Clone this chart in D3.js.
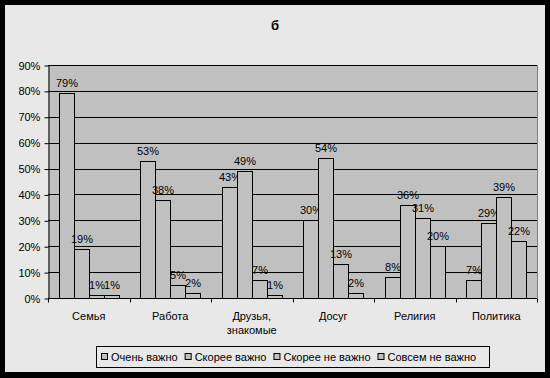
<!DOCTYPE html>
<html><head><meta charset="utf-8">
<script src="https://cdn.jsdelivr.net/npm/d3@7"></script>
<style>body{margin:0;background:#000}svg{display:block}text{font-family:Arial,"Liberation Sans",sans-serif}</style>
</head><body><svg id="c" width="550" height="378"></svg>
<script>
const title = "б";
const categories = ["Семья", "Работа", "Друзья,\nзнакомые", "Досуг", "Религия", "Политика"];
const seriesNames = ["Очень важно", "Скорее важно", "Скорее не важно", "Совсем не важно"];
const veryImportant = [79, 53, 43, 30, 8, 7];
const ratherImportant = [19, 38, 49, 54, 36, 29];
const ratherNotImportant = [1, 5, 7, 13, 31, 39];
const notAtAll = [1, 2, 1, 2, 20, 22];
const yTicks = [0, 10, 20, 30, 40, 50, 60, 70, 80, 90];

const series = [veryImportant, ratherImportant, ratherNotImportant, notAtAll];
const svg = d3.select("#c");
svg.append("rect").attr("x", 0).attr("y", 0).attr("width", 550).attr("height", 378).attr("fill", "#000");
svg.append("rect").attr("x", 5).attr("y", 5).attr("width", 540).attr("height", 367).attr("fill", "#e8e8e8");

const L = 48, R = 537, T = 65, B = 298;
const x0 = d3.scaleBand().domain(categories).range([L, R]).paddingInner(0).paddingOuter(0);
const x1 = d3.scaleBand().domain(d3.range(4)).range([0, x0.bandwidth()]).paddingOuter(0.72);
const y = d3.scaleLinear().domain([0, 90]).range([B, T]);

svg.append("rect").attr("x", L).attr("y", T).attr("width", R - L).attr("height", B - T).attr("fill", "#c0c0c0");
svg.append("line").attr("x1", R + 0.5).attr("x2", R + 0.5).attr("y1", T).attr("y2", B).attr("stroke", "#808080");
// gridlines
svg.append("g").selectAll("line").data(yTicks.filter(d => d > 0)).join("line")
  .attr("x1", L).attr("x2", R).attr("y1", d => Math.round(y(d)) + 0.5).attr("y2", d => Math.round(y(d)) + 0.5)
  .attr("stroke", "#000").attr("stroke-width", 1);

// bars
categories.forEach((c, ci) => {
  series.forEach((s, si) => {
    const v = s[ci];
    const bx = Math.round(x0(c) + x1(si)) + 0.5;
    const bw = Math.round(x1.bandwidth());
    svg.append("rect").attr("x", bx).attr("y", Math.round(y(v)) + 0.5)
      .attr("width", bw).attr("height", Math.max(0, Math.round(B - y(v))))
      .attr("fill", "#c0c0c0").attr("stroke", "#000").attr("stroke-width", 1);
    svg.append("text").attr("x", bx + bw / 2).attr("y", y(v) - 6)
      .attr("text-anchor", "middle").attr("font-size", 11).attr("fill", "#000").text(v + "%");
  });
});

// axes
const ya = d3.axisLeft(y).tickValues(yTicks).tickFormat(d => d + "%").tickSize(4).tickSizeOuter(0);
const gy = svg.append("g").attr("transform", `translate(${L + 0.5},0.5)`).call(ya);
gy.select(".domain").attr("stroke", "#000");
gy.selectAll("text").attr("font-size", 11).attr("fill", "#000").attr("dx", "-0.1em").style("font-family", "Arial, 'Liberation Sans', sans-serif");

const xa = svg.append("g").attr("transform", `translate(0,${B + 0.5})`);
xa.append("line").attr("x1", L).attr("x2", R).attr("stroke", "#000");
const tickXs = categories.map(c => x0(c)).concat([R]);
xa.selectAll("line.t").data(tickXs).join("line").attr("class", "t")
  .attr("x1", d => Math.round(d) + 0.5).attr("x2", d => Math.round(d) + 0.5).attr("y1", 0).attr("y2", 4).attr("stroke", "#000");
categories.forEach(c => {
  const t = xa.append("text").attr("x", x0(c) + x0.bandwidth() / 2).attr("y", 21)
    .attr("text-anchor", "middle").attr("font-size", 11).attr("fill", "#000");
  c.split("\n").forEach((ln, i) => t.append("tspan").attr("x", x0(c) + x0.bandwidth() / 2).attr("dy", i ? 14 : 0).text(ln));
});

// title
svg.append("text").attr("x", 275).attr("y", 30).attr("text-anchor", "middle")
  .attr("font-size", 13).attr("font-weight", "bold").attr("fill", "#000").text(title);

// legend
const lg = svg.append("g");
lg.append("rect").attr("x", 96.5).attr("y", 346.5).attr("width", 393).attr("height", 21)
  .attr("fill", "#e8e8e8").attr("stroke", "#000");
let lx = 101;
seriesNames.forEach((n, i) => {
  lg.append("rect").attr("x", lx + 0.5).attr("y", 353.5).attr("width", 6).attr("height", 6)
    .attr("fill", "#c0c0c0").attr("stroke", "#000");
  const t = lg.append("text").attr("x", lx + 10).attr("y", 361).attr("font-size", 11).attr("fill", "#000").text(n);
  lx += 10 + t.node().getComputedTextLength() + 7;
});
</script></body></html>
